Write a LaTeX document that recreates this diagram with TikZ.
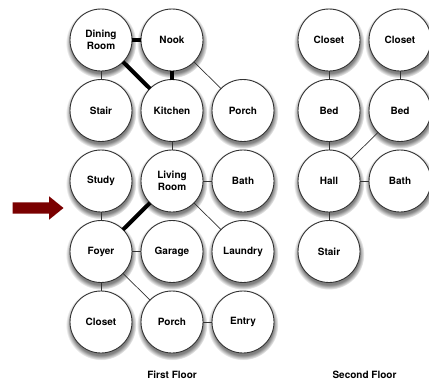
\documentclass[tikz,border=0pt]{standalone}
\usepackage{fontspec}
\setmainfont{TeX Gyre Heros}
\usepackage{tikz}
\usetikzlibrary{positioning, shadows, shapes.arrows}
\definecolor{arrowred}{HTML}{7A0000}
\tikzstyle{room}=[circle, draw=black!80, line width=0.9pt, fill=white,
                  minimum size=62pt, inner sep=0pt, outer sep=0pt,
                  align=center, font=\bfseries,
                  circular drop shadow={shadow xshift=0pt, shadow yshift=-2.5pt,
                                        shadow scale=1.14, opacity=1}]
\tikzstyle{door}=[line width=0.7pt, color=black!80]
\tikzstyle{opening}=[line width=4pt, color=black]
\tikzstyle{caption}=[font=\bfseries]

\begin{document}
\begin{tikzpicture}[node distance=8.5pt and 9pt]
  \useasboundingbox (0pt,0pt) rectangle (429pt,-383pt);
  % first floor
  \node[room] (dining) at (101pt,-40pt) {Dining\\Room};
  \node[room, right=of dining] (nook) {Nook};
  \node[room, below=of dining] (stairA) {Stair};
  \node[room, below=of nook] (kitchen) {Kitchen};
  \node[room, right=of kitchen] (porchA) {Porch};
  \node[room, below=of stairA] (study) {Study};
  \node[room, below=of kitchen] (living) {Living\\Room};
  \node[room, right=of living] (bathA) {Bath};
  \node[room, below=of study] (foyer) {Foyer};
  \node[room, below=of living] (garage) {Garage};
  \node[room, below=of bathA] (laundry) {Laundry};
  \node[room, below=of foyer] (closetA) {Closet};
  \node[room, below=of garage] (porchB) {Porch};
  \node[room, below=of laundry] (entry) {Entry};
  % second floor
  \node[room] (closetB) at (329pt,-40pt) {Closet};
  \node[room, right=of closetB] (closetC) {Closet};
  \node[room, below=of closetB] (bedA) {Bed};
  \node[room, below=of closetC] (bedB) {Bed};
  \node[room, below=of bedA] (hall) {Hall};
  \node[room, below=of bedB] (bathB) {Bath};
  \node[room, below=of hall] (stairB) {Stair};

  \node[caption] (firstcap) at (172pt,-375pt) {First Floor};
  \node[caption] (secondcap) at (364.5pt,-375pt) {Second Floor};

  \node[single arrow, fill=arrowred, minimum height=51pt,
        inner xsep=0pt, inner ysep=5.5pt,
        single arrow head extend=6pt, single arrow tip angle=78]
    (pointer) at (34.5pt,-208pt) {};

  % wide openings
  \draw[opening] (dining) -- (nook);
  \draw[opening] (dining) -- (kitchen);
  \draw[opening] (nook) -- (kitchen);
  \draw[opening] (living) -- (foyer);
  % doors
  \draw[door] (nook) -- (porchA);
  \draw[door] (dining) -- (stairA);
  \draw[door] (kitchen) -- (living);
  \draw[door] (living) -- (bathA);
  \draw[door] (living) -- (laundry);
  \draw[door] (study) -- (foyer);
  \draw[door] (foyer) -- (garage);
  \draw[door] (foyer) -- (closetA);
  \draw[door] (foyer) -- (porchB);
  \draw[door] (porchB) -- (entry);
  \draw[door] (closetB) -- (bedA);
  \draw[door] (closetC) -- (bedB);
  \draw[door] (bedA) -- (hall);
  \draw[door] (bedB) -- (hall);
  \draw[door] (hall) -- (bathB);
  \draw[door] (hall) -- (stairB);
\end{tikzpicture}
\end{document}
